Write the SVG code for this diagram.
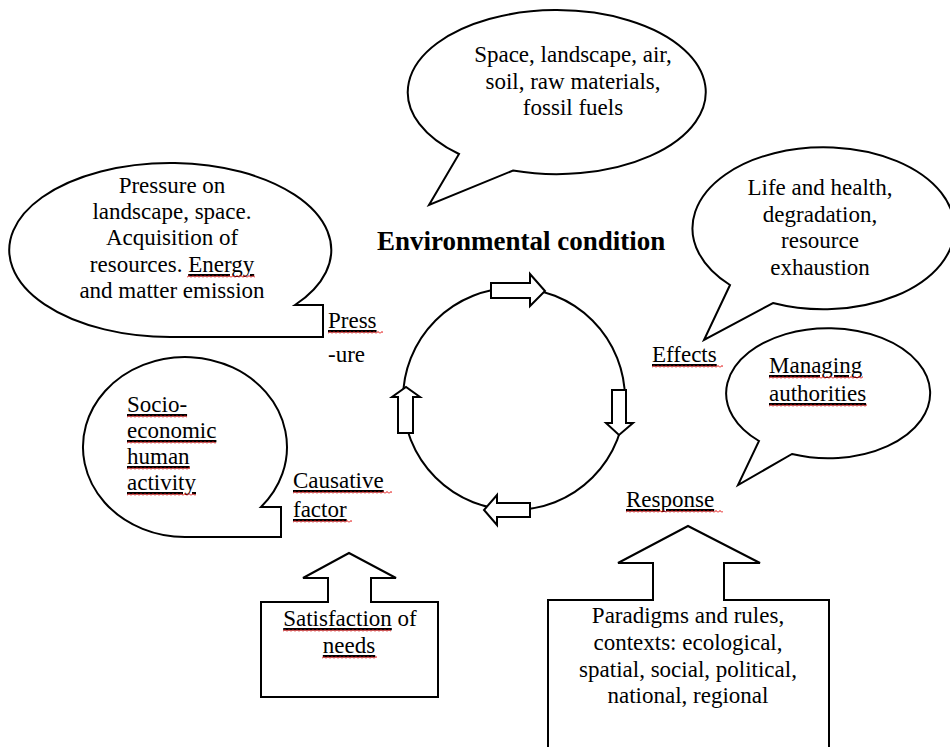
<svg xmlns="http://www.w3.org/2000/svg" width="950" height="747" viewBox="0 0 950 747">
<style>
.s{fill:#fff;stroke:#000;stroke-width:2;stroke-linejoin:miter}
.t{font-family:"Liberation Serif","Times New Roman",serif;font-size:23px;fill:#000}
.c{text-anchor:middle}
.u{text-decoration:underline}
.b{font-weight:bold;font-size:27px}
</style>
<defs>
<pattern id="wavy" width="4" height="3" patternUnits="userSpaceOnUse">
<path d="M0 2.5 L2 0.5 L4 2.5" fill="none" stroke="#e00000" stroke-width="1"/>
</pattern>
</defs>
<rect width="950" height="747" fill="#fff"/>

<g id="resources">
<path class="s" d="M459 154 A149 82 0 1 1 513 170.5 L429 205 Z"/>
<text class="t c" x="573" y="62">Space, landscape, air,</text>
<text class="t c" x="573" y="89">soil, raw materials,</text>
<text class="t c" x="573" y="115">fossil fuels</text>
</g>

<g id="pressure-bubble">
<path class="s" d="M295 305 H323 V337 H171 A161 87 0 1 1 295 305 Z"/>
<text class="t c" x="172" y="193">Pressure on</text>
<text class="t c" x="172" y="219">landscape, space.</text>
<text class="t c" x="172" y="245">Acquisition of</text>
<text class="t c" x="172" y="272">resources. <tspan class="u">Energy</tspan></text>
<text class="t c" x="172" y="298">and matter emission</text>
<rect transform="translate(187,275)" width="68" height="3" fill="url(#wavy)"/>
</g>

<g id="effects-bubble">
<path class="s" d="M730 285 A131 81 0 1 1 773 303 L704 340 Z"/>
<text class="t c" x="820" y="195">Life and health,</text>
<text class="t c" x="820" y="222">degradation,</text>
<text class="t c" x="820" y="248">resource</text>
<text class="t c" x="820" y="275">exhaustion</text>
</g>

<g id="authorities">
<path class="s" d="M759 441 A102 65 0 1 1 792 454 L738 485 Z"/>
<text class="t u" x="769" y="373">Managing</text>
<text class="t u" x="769" y="401">authorities</text>
<rect transform="translate(769,376)" width="94" height="3" fill="url(#wavy)"/>
<rect transform="translate(769,404)" width="98" height="3" fill="url(#wavy)"/>
</g>

<g id="socio">
<path class="s" d="M261 507 H281 V537 H185 A102 90 0 1 1 261 507 Z"/>
<text class="t u" x="127" y="412">Socio-</text>
<text class="t u" x="127" y="438">economic</text>
<text class="t u" x="127" y="464">human</text>
<text class="t u" x="127" y="490">activity</text>
<rect transform="translate(127,415)" width="60" height="3" fill="url(#wavy)"/>
<rect transform="translate(127,441)" width="89" height="3" fill="url(#wavy)"/>
<rect transform="translate(127,467)" width="63" height="3" fill="url(#wavy)"/>
<rect transform="translate(127,493)" width="69" height="3" fill="url(#wavy)"/>
</g>

<g id="title">
<text class="t b" x="377" y="250">Environmental condition</text>
</g>

<g id="labels">
<text class="t u" x="328" y="328">Press</text>
<text class="t" x="328" y="362">-ure</text>
<text class="t u" x="652" y="362">Effects</text>
<text class="t u" x="626" y="507">Response</text>
<text class="t u" x="293" y="488">Causative</text>
<text class="t u" x="293" y="517">factor</text>
<rect transform="translate(328,331)" width="55" height="3" fill="url(#wavy)"/>
<rect transform="translate(652,365)" width="71" height="3" fill="url(#wavy)"/>
<rect transform="translate(626,510)" width="97" height="3" fill="url(#wavy)"/>
<rect transform="translate(293,491)" width="99" height="3" fill="url(#wavy)"/>
<rect transform="translate(293,520)" width="59" height="3" fill="url(#wavy)"/>
</g>

<g id="connectors">
<circle cx="514" cy="399" r="111" fill="none" stroke="#000" stroke-width="2"/>
<polygon class="s" points="491,283 530,283 530,274 545,291 530,306 530,298 491,298"/>
<polygon class="s" points="612,390 626,390 626,423 633,423 619,435 606,423 612,423"/>
<polygon class="s" points="530,503 530,517 497,517 497,525 484,510 497,495 497,503"/>
<polygon class="s" points="398,433 398,397 392,397 406,387 420,397 413,397 413,433"/>
</g>

<g id="needs">
<polygon class="s" points="261,602 328,602 328,578 303,578 349,553 396,578 371,578 371,602 438,602 438,697 261,697"/>
<text class="t c" x="350" y="626"><tspan class="u">Satisfaction</tspan> of</text>
<text class="t c u" x="349" y="653">needs</text>
<rect transform="translate(283,629)" width="108" height="3" fill="url(#wavy)"/>
<rect transform="translate(322,656)" width="55" height="3" fill="url(#wavy)"/>
</g>

<g id="paradigms">
<polygon class="s" points="548,760 548,600 653,600 653,563 618,563 688,526 760,563 724,563 724,600 829,600 829,760"/>
<text class="t c" x="688" y="623">Paradigms and rules,</text>
<text class="t c" x="688" y="650">contexts: ecological,</text>
<text class="t c" x="688" y="677">spatial, social, political,</text>
<text class="t c" x="688" y="703">national, regional</text>
</g>
</svg>
